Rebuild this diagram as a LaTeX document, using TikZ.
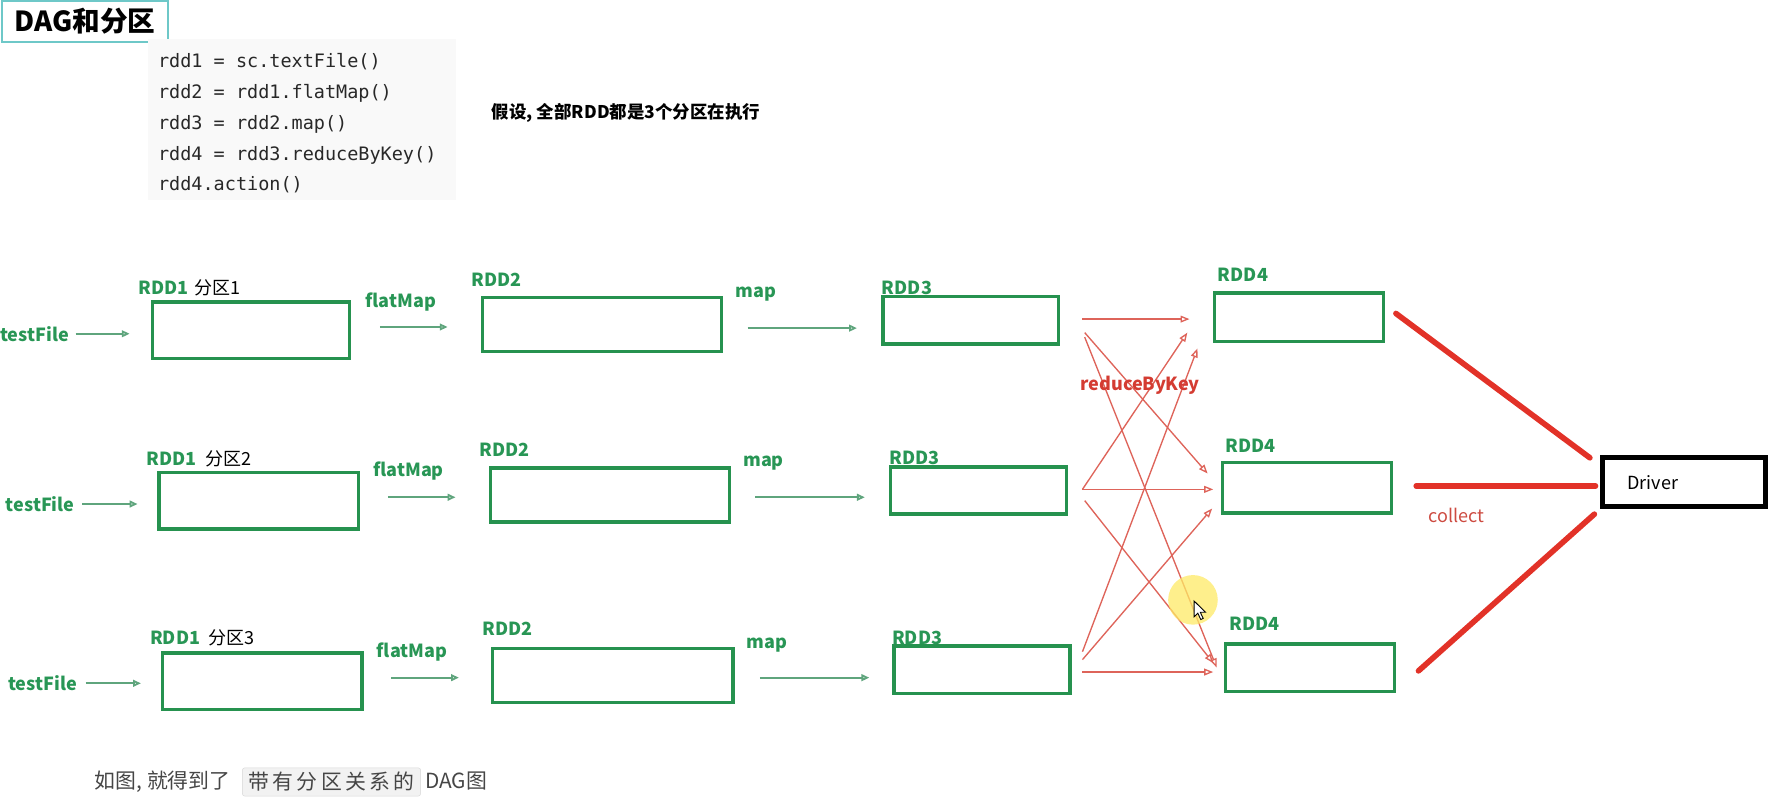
\documentclass[tikz,border=0pt]{standalone}
\usepackage{fontspec}
\setmainfont{Noto Sans CJK SC}
\newfontfamily\codefont{DejaVu Sans Mono}
\usetikzlibrary{arrows.meta}
\definecolor{boxgreen}{RGB}{38,146,79}
\definecolor{lblgreen}{RGB}{40,150,85}
\definecolor{arrgreen}{RGB}{95,165,125}
\definecolor{thinred}{RGB}{222,100,90}
\definecolor{thickred}{RGB}{226,50,40}
\definecolor{lblred}{RGB}{212,60,50}
\definecolor{collectred}{RGB}{205,75,65}
\definecolor{titleteal}{RGB}{110,200,200}
\definecolor{codebg}{RGB}{249,249,249}
\definecolor{codetext}{RGB}{40,40,40}
\definecolor{bottomtext}{RGB}{70,70,70}
\newcommand\lblfont{\fontsize{16}{18}\selectfont\bfseries}
\newcommand\plainfont{\fontsize{16}{18}\selectfont}
\newcommand\btmfont{\fontsize{18.5}{20}\selectfont}
\begin{document}
\begin{tikzpicture}[x=1pt,y=-1pt,
  gbox/.style={draw=boxgreen,line width=3pt,inner sep=0pt,fill=white},
  glabel/.style={text=lblgreen,font=\lblfont,anchor=west,inner sep=0pt},
  blabel/.style={text=black,font=\plainfont,anchor=west,inner sep=0pt},
  garrow/.style={draw=arrgreen,line width=1.6pt,-{Triangle[open,length=7pt,width=6pt]}},
  rarrow/.style={draw=thinred,line width=1.2pt,-{Triangle[open,length=8pt,width=6pt]}},
  rthick/.style={draw=thickred,line width=5pt,line cap=round},
  codeline/.style={anchor=west,inner sep=0pt,text=codetext,font=\codefont\fontsize{16.4}{20}\selectfont}
]
\useasboundingbox (0,0) rectangle (1568,712);

% title
\node[draw=titleteal,line width=1.5pt,minimum width=147pt,minimum height=36pt,inner sep=0pt] (title) at (75.5,19)
  {\fontsize{24.5}{26}\selectfont\bfseries DAG和分区};

% code block
\node[fill=codebg,minimum width=273pt,minimum height=142pt,inner sep=0pt] (codebg) at (267.5,106) {};
\node[codeline] (c1) at (140,55) {rdd1 = sc.textFile()};
\node[codeline] (c2) at (140,82.5) {rdd2 = rdd1.flatMap()};
\node[codeline] (c3) at (140,110) {rdd3 = rdd2.map()};
\node[codeline] (c4) at (140,137.5) {rdd4 = rdd3.reduceByKey()};
\node[codeline] (c5) at (140,164) {rdd4.action()};

\node[anchor=west,inner sep=0pt,font=\fontsize{15.5}{18}\selectfont\bfseries] (assume) at (436,100) {假设, 全部RDD都是3个分区在执行};

% ---------- row 1
\node[glabel] (t1) at (0,296) {testFile};
\coordinate (t1a) at (67,296); \coordinate (t1b) at (115,296);
\node[gbox,minimum width=175pt,minimum height=50pt] (a1) at (222.5,293) {};
\node[glabel] (a1l) at (123,255) {RDD1};
\node[blabel] (a1p) at (172,255) {分区1};
\node[glabel] (f1) at (324,268) {flatMap};
\coordinate (f1a) at (337,290); \coordinate (f1b) at (397,290);
\node[gbox,minimum width=212pt,minimum height=48pt] (b1) at (534,288) {};
\node[glabel] (b1l) at (418,248) {RDD2};
\node[glabel] (m1) at (652,261) {map};
\coordinate (m1a) at (663,291); \coordinate (m1b) at (760,291);
\node[gbox,minimum width=156pt,minimum height=42pt] (c1b) at (861,284) {};
\node[glabel] (c1l) at (782,255) {RDD3};
\node[gbox,minimum width=150pt,minimum height=43pt] (d1) at (1152,281.5) {};
\node[glabel] (d1l) at (1080,244) {RDD4};

% ---------- row 2
\node[glabel] (t2) at (5,447) {testFile};
\coordinate (t2a) at (73,447); \coordinate (t2b) at (122,447);
\node[gbox,minimum width=177pt,minimum height=50pt] (a2) at (229.5,444) {};
\node[glabel] (a2l) at (130,407) {RDD1};
\node[blabel] (a2p) at (182,407) {分区2};
\node[glabel] (f2) at (331,418) {flatMap};
\coordinate (f2a) at (344,441); \coordinate (f2b) at (404,441);
\node[gbox,minimum width=212pt,minimum height=48pt] (b2) at (541,439) {};
\node[glabel] (b2l) at (425,399) {RDD2};
\node[glabel] (m2) at (659,411) {map};
\coordinate (m2a) at (670,441); \coordinate (m2b) at (767,441);
\node[gbox,minimum width=156pt,minimum height=42pt] (c2b) at (868,435) {};
\node[glabel] (c2l) at (789,406) {RDD3};
\node[gbox,minimum width=150pt,minimum height=45pt] (d2) at (1159,432.5) {};
\node[glabel] (d2l) at (1087,395) {RDD4};

% ---------- row 3
\node[glabel] (t3) at (7,606) {testFile};
\coordinate (t3a) at (76,606); \coordinate (t3b) at (125,606);
\node[gbox,minimum width=177pt,minimum height=50pt] (a3) at (232.5,604) {};
\node[glabel] (a3l) at (133,566) {RDD1};
\node[blabel] (a3p) at (185,566) {分区3};
\node[glabel] (f3) at (334,578) {flatMap};
\coordinate (f3a) at (347,601); \coordinate (f3b) at (407,601);
\node[gbox,minimum width=213pt,minimum height=48pt] (b3) at (543.5,599) {};
\node[glabel] (b3l) at (428,558) {RDD2};
\node[glabel] (m3) at (662,572) {map};
\coordinate (m3a) at (674,601); \coordinate (m3b) at (771,601);
\node[gbox,minimum width=156pt,minimum height=42pt] (c3b) at (871,594) {};
\node[glabel] (c3l) at (791,566) {RDD3};
\node[gbox,minimum width=150pt,minimum height=42pt] (d3) at (1162,592) {};
\node[glabel] (d3l) at (1090,553) {RDD4};

% green arrows
\foreach \r in {1,2,3}{
  \draw[garrow] (t\r a) -- (t\r b);
  \draw[garrow] (f\r a) -- (f\r b);
  \draw[garrow] (m\r a) -- (m\r b);
}

% red shuffle arrows
\coordinate (s1a) at (960,283); \coordinate (e1a) at (1055,283);
\coordinate (s1b) at (962,295); \coordinate (e2a) at (1071,420);
\coordinate (s1c) at (962,299); \coordinate (e3a) at (1079,592);
\coordinate (s2a) at (960,434); \coordinate (e1b) at (1053,295);
\coordinate (e2b) at (1076,434);
\coordinate (s2b) at (962,444); \coordinate (e3b) at (1076,588);
\coordinate (s3a) at (960,578); \coordinate (e1c) at (1062,309);
\coordinate (s3b) at (960,585); \coordinate (e2c) at (1075,451);
\coordinate (s3c) at (960,596); \coordinate (e3c) at (1076,596);
\draw[rarrow] (s1a) -- (e1a);
\draw[rarrow] (s1b) -- (e2a);
\draw[rarrow] (s1c) -- (e3a);
\draw[rarrow] (s2a) -- (e1b);
\draw[rarrow] (s2a) -- (e2b);
\draw[rarrow] (s2b) -- (e3b);
\draw[rarrow] (s3a) -- (e1c);
\draw[rarrow] (s3b) -- (e2c);
\draw[rarrow] (s3c) -- (e3c);
\node[anchor=west,inner sep=0pt,text=lblred,font=\lblfont] (rbk) at (958,342) {reduceByKey};

% driver
\node[draw=black,line width=4.5pt,minimum width=145pt,minimum height=43pt,inner sep=0pt] (drv) at (1493.5,427.5) {};
\node[anchor=west,inner sep=0pt,font=\plainfont] (drvt) at (1443,428) {Driver};
\coordinate (k1a) at (1238,278); \coordinate (k1b) at (1410,406);
\coordinate (k2a) at (1256,431); \coordinate (k2b) at (1415,431);
\coordinate (k3a) at (1258,595); \coordinate (k3b) at (1414,456);
\draw[rthick] (k1a) -- (k1b);
\draw[rthick] (k2a) -- (k2b);
\draw[rthick] (k3a) -- (k3b);
\node[anchor=west,inner sep=0pt,text=collectred,font=\plainfont] (coll) at (1267,457) {collect};

% pointer highlight
\fill[yellow!80!orange!60!white,opacity=0.75] (1058,532) circle (22);
\filldraw[fill=white,draw=black,line width=0.8pt] (1059,533) -- ++(0,14) -- ++(3.3,-3.2) -- ++(2.6,5.6) -- ++(2.2,-1) -- ++(-2.6,-5.4) -- ++(4.6,0) -- cycle;

% bottom sentence
\node[anchor=west,inner sep=0pt,text=bottomtext,font=\btmfont] (bt1) at (84,693) {如图, 就得到了};
\node[draw={rgb,255:red,215;green,215;blue,215},fill={rgb,255:red,242;green,242;blue,242},rounded corners=2pt,
  minimum width=158pt,minimum height=25pt,inner sep=0pt,text=bottomtext,font=\btmfont] (bt2) at (294,693.5)
  {带\hspace{3pt}有\hspace{3pt}分\hspace{3pt}区\hspace{3pt}关\hspace{3pt}系\hspace{3pt}的};
\node[anchor=west,inner sep=0pt,text=bottomtext,font=\btmfont] (bt3) at (377,693) {DAG图};
\end{tikzpicture}
\end{document}
